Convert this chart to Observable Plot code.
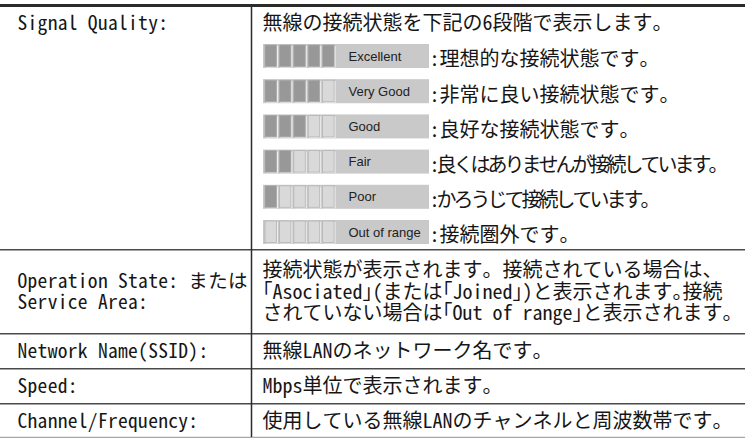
<!DOCTYPE html>
<html><head><meta charset="utf-8">
<script src="https://cdn.jsdelivr.net/npm/d3@7"></script>
<script src="https://cdn.jsdelivr.net/npm/@observablehq/plot@0.6"></script>
<style>
html,body{margin:0;padding:0;background:#fff;}
</style>
</head><body><div id="chart"></div>
<script>
// ---------- data ----------
const fieldLabels = [
  "Signal Quality:",
  "Operation State: または\nService Area:",
  "Network Name(SSID):",
  "Speed:",
  "Channel/Frequency:"
];
const fieldDescriptions = [
  "無線の接続状態を下記の6段階で表示します。",
  "接続状態が表示されます。接続されている場合は、\n「Asociated」(または「Joined」)と表示されます。接続\nされていない場合は「Out of range」と表示されます。",
  "無線LANのネットワーク名です。",
  "Mbps単位で表示されます。",
  "使用している無線LANのチャンネルと周波数帯です。"
];
const levelNames = ["Excellent", "Very Good", "Good", "Fair", "Poor", "Out of range"];
const levelBars = [5, 4, 3, 2, 1, 0];
const levelDescriptions = [
  ":理想的な接続状態です。",
  ":非常に良い接続状態です。",
  ":良好な接続状態です。",
  ":良くはありませんが接続しています。",
  ":かろうじて接続しています。",
  ":接続圏外です。"
];
const segmentCount = 5;

// ---------- layout ----------
const W = 745, H = 438;
const colX = 251, padL = 17, padR = 262;
const tableTop = 5;
const headerH = 33, levelPitch = 35.2, levelOffset = 39, barH = 24;
const lineH = 24.5, rowPad = 10.5;
const barX0 = 263, barX1 = 429, cellX0 = 265, cellW = 11.5, cellPitch = 14.4;
const labelX = 348, descX = 429;

const lineCount = s => s.split("\n").length;
const rowHeights = fieldLabels.map((lab, i) => i === 0
  ? headerH + levelNames.length * levelPitch
  : Math.max(lineCount(lab), lineCount(fieldDescriptions[i])) * lineH + rowPad);
const rowTops = Array.from(d3.cumsum([tableTop, ...rowHeights]));
const rows = fieldLabels.map((label, i) => ({
  label, desc: fieldDescriptions[i], i,
  top: rowTops[i], bottom: rowTops[i + 1],
  cy: i === 0 ? rowTops[i] + 18 : (rowTops[i] + rowTops[i + 1]) / 2
}));
const tableBottom = Math.min(rowTops[rowTops.length - 1], H - 1);
const separators = rowTops.slice(1).map((y, i, a) => ({y: Math.min(y, H - 1), last: i === a.length - 1}));

const levels = levelNames.map((name, i) => ({
  name, n: levelBars[i], desc: levelDescriptions[i], i,
  top: tableTop + levelOffset + i * levelPitch
}));
const cells = levels.flatMap(l => d3.range(segmentCount).map(j => ({
  top: l.top, j, on: j < l.n
})));

const jp = "'Noto Sans Mono CJK JP','Noto Sans CJK JP',sans-serif";
const ink = "#161616";

const chart = Plot.plot({
  width: W, height: H, margin: 0,
  x: {domain: [0, W], range: [0, W], axis: null},
  y: {domain: [0, H], range: [0, H], axis: null},
  style: {background: "#fff", overflow: "visible"},
  marks: [
    // signal bars
    Plot.rect(levels, {x1: () => barX0, x2: () => barX1, y1: d => d.top, y2: d => d.top + barH, fill: "#c9c9c9"}),
    Plot.rect(cells, {
      x1: d => cellX0 + d.j * cellPitch + 1, x2: d => cellX0 + d.j * cellPitch + cellW + 1.5,
      y1: d => d.top + 2, y2: d => d.top + barH - 0.5, fill: "#ededed"
    }),
    Plot.rect(cells, {
      x1: d => cellX0 + d.j * cellPitch, x2: d => cellX0 + d.j * cellPitch + cellW,
      y1: d => d.top + 1, y2: d => d.top + barH - 1.5,
      fill: d => d.on ? "#989898" : "#d9d9d9",
      stroke: d => d.on ? "#a8a8a8" : "#b4b4b4", strokeWidth: 0.8
    }),
    Plot.text(levels, {
      x: () => labelX, y: d => d.top + barH / 2, text: "name", textAnchor: "start",
      fontFamily: "'Liberation Sans',Arial,sans-serif", fontSize: 13, fill: "#222"
    }),
    Plot.text(levels, {
      x: () => descX, y: d => d.top + barH / 2 + 3.5, text: "desc", textAnchor: "start",
      fontFamily: jp, fontSize: 20, fill: ink, ariaDescription: "level-desc"
    }),
    // table text
    Plot.text(rows, {
      x: () => padL, y: "cy", text: "label", textAnchor: "start", lineAnchor: "middle",
      fontFamily: jp, fontSize: 19.5, fill: ink, lineHeight: 1.1, ariaDescription: "left-labels"
    }),
    Plot.text(rows, {
      x: () => padR, y: "cy", text: "desc", textAnchor: "start", lineAnchor: "middle",
      fontFamily: jp, fontSize: 20, fill: ink, lineHeight: 1.08, ariaDescription: "right-desc"
    }),
    // rules
    Plot.ruleY(separators, {y: "y", x1: () => 0, x2: () => W, stroke: d => d.last ? "#a6a6a6" : "#4a4a4a", strokeWidth: 1.6}),
    Plot.ruleY([tableTop], {x1: () => 0, x2: () => W, stroke: "#2b2b2b", strokeWidth: 3}),
    Plot.ruleX([colX], {y1: () => tableTop, y2: () => tableBottom, stroke: "#2b2b2b", strokeWidth: 1.5})
  ]
});
document.getElementById("chart").appendChild(chart);

// typographic tuning
const root = d3.select(chart);
root.selectAll("g[aria-description='left-labels'] text").style("letter-spacing", "0.3px");
const tightKana = new Set([levelDescriptions[3], levelDescriptions[4]]);
root.selectAll("g[aria-description='level-desc'] text").each(function() {
  if (tightKana.has(this.textContent)) this.style.letterSpacing = "-3px";
});
root.selectAll("g[aria-description='right-desc'] tspan, g[aria-description='right-desc'] text").each(function() {
  if (this.querySelector && this.querySelector("tspan")) return;
  if (/[「」]/.test(this.textContent)) this.style.fontFeatureSettings = '"halt" 1';
});
</script>
</body></html>
